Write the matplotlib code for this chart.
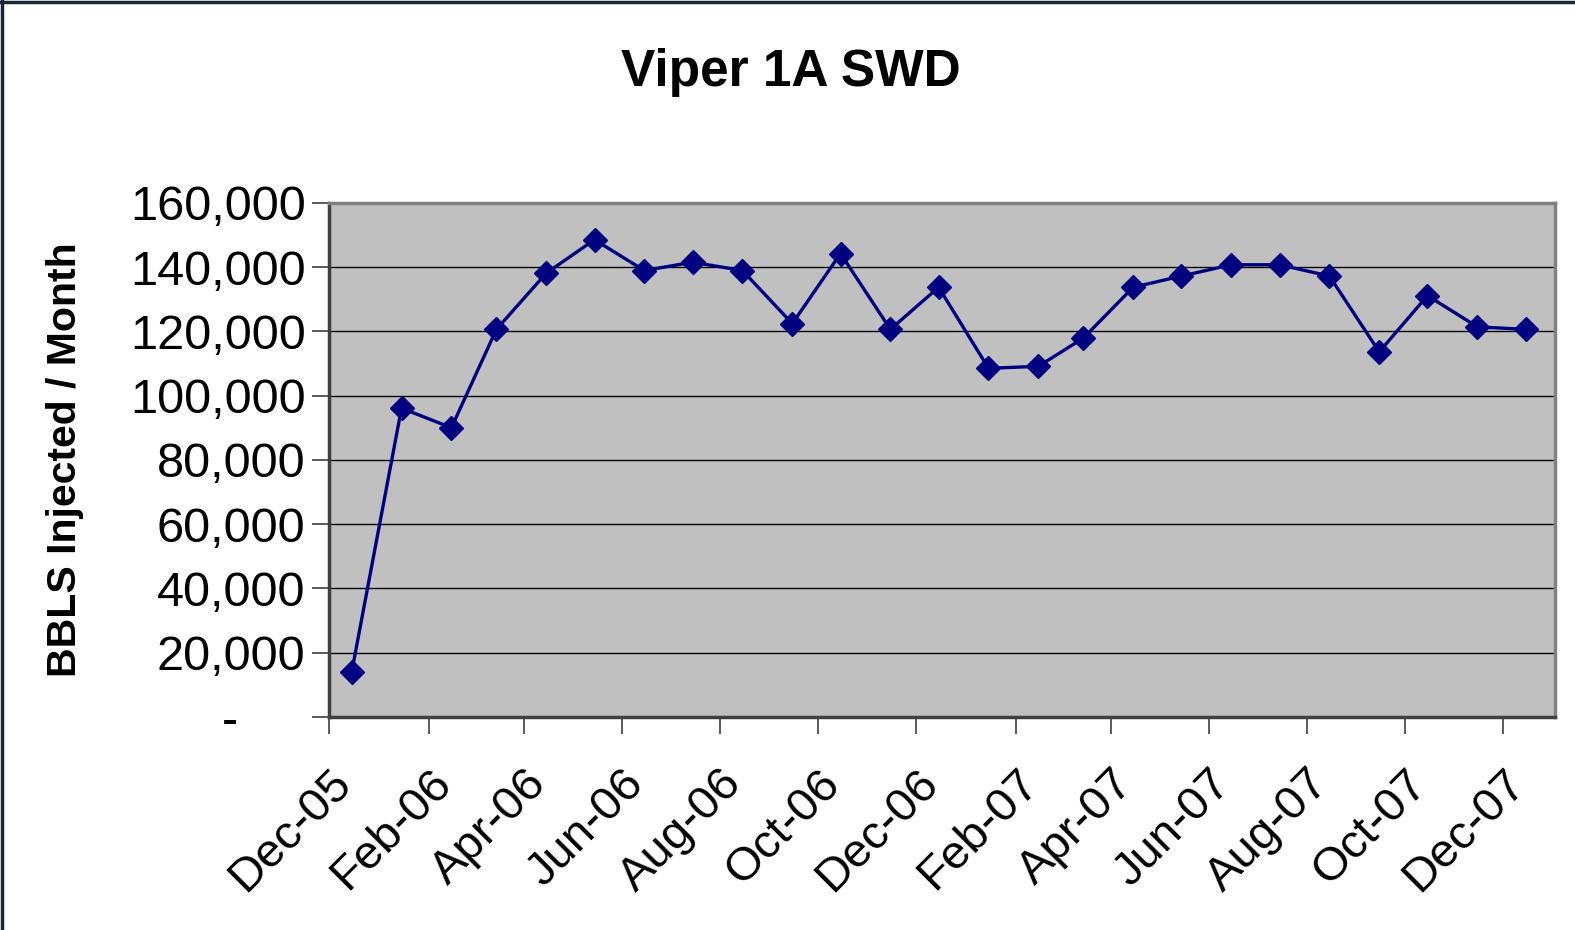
import datetime as dt

import matplotlib
matplotlib.use("Agg")
import matplotlib.pyplot as plt
import matplotlib.dates as mdates
from matplotlib.lines import Line2D
from matplotlib.ticker import FuncFormatter

plt.rcParams["font.family"] = ["Liberation Sans", "DejaVu Sans"]

# monthly volumes, plotted mid-month (Dec-05 .. Dec-07)
start_year, start_month = 2005, 12
volumes = [14000, 96100, 90000, 120600, 138100, 148500, 138900, 141500, 138900,
           122400, 144200, 120600, 133700, 108500, 109100, 117900, 133700, 137200,
           140700, 140700, 137200, 113600, 131100, 121400, 120600]

months = []
for k in range(len(volumes)):
    m = start_month - 1 + k
    months.append(dt.date(start_year + m // 12, m % 12 + 1, 15))

title = "Viper 1A SWD"
ylabel = "BBLS Injected / Month"


def fmt_y(v, pos):
    if v == 0:
        return "-     "
    return f"{v:,.0f}"


fig = plt.figure(figsize=(15.75, 9.3), dpi=100)
ax = fig.add_axes([0.209, 0.229, 0.778, 0.553])

ax.set_facecolor("#C0C0C0")
ax.plot(months, volumes, color="#000080", linewidth=2.4, marker="D",
        markersize=12, markerfacecolor="#000080", markeredgecolor="#000080",
        zorder=3)

ax.set_ylim(0, 160000)
ax.set_yticks(range(0, 160001, 20000))
ax.yaxis.set_major_formatter(FuncFormatter(fmt_y))
ax.grid(axis="y", color="black", linewidth=1)
ax.set_axisbelow(True)

ax.set_xlim(dt.date(2005, 12, 1), dt.date(2008, 1, 2))
ax.xaxis.set_major_locator(mdates.MonthLocator(bymonth=[2, 4, 6, 8, 10, 12]))
ax.xaxis.set_major_formatter(mdates.DateFormatter("%b-%y"))

for s in ax.spines.values():
    s.set_color("#808080")
    s.set_linewidth(2.5)
ax.spines["left"].set_color("#404040")
ax.spines["bottom"].set_color("#404040")

ax.tick_params(axis="both", labelsize=34, length=12, width=1.2,
               direction="out", color="#404040")
ax.tick_params(axis="y", labelsize=35, pad=5)
for lab in ax.get_xticklabels():
    lab.set_rotation(45)
    lab.set_ha("right")
    lab.set_rotation_mode("anchor")
ax.tick_params(axis="x", pad=20)

ax.set_ylabel(ylabel, fontsize=29.5, fontweight="bold")
ax.yaxis.set_label_coords(-0.2, 0.5)
fig.text(0.502, 0.922, title, fontsize=37, fontweight="bold",
         ha="center", va="center")

# dark frame on top and left edge of the chart area
fig.add_artist(Line2D([0, 1], [0.998, 0.998], color="#1a2535", linewidth=2.5,
                      transform=fig.transFigure))
fig.add_artist(Line2D([0.001, 0.001], [0, 1], color="#1a2535", linewidth=2.5,
                      transform=fig.transFigure))

fig.savefig("out.png", dpi=100)
